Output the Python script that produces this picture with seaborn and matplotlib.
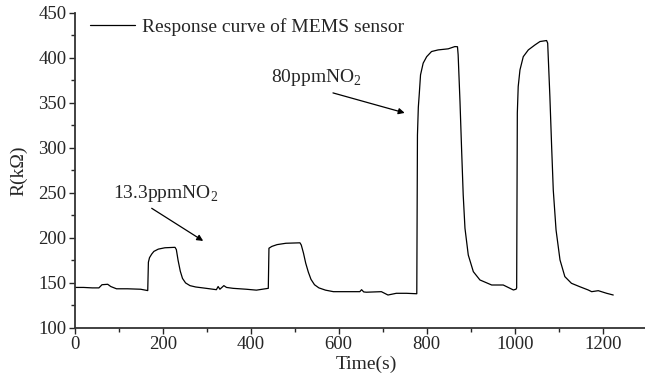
import matplotlib
matplotlib.use('Agg')
import matplotlib.pyplot as plt
import numpy as np
import pandas as pd
import seaborn as sns

# response of the MEMS sensor
time_s = [0, 20, 40, 55, 62, 75, 82, 95, 120, 150, 166, 167.5, 170, 175, 180, 190, 205, 228,
          231, 235, 240, 245, 252, 262, 275, 299, 322, 326, 330, 339, 345, 360, 390, 413, 440,
          441.5, 448, 460, 480, 512, 515, 520, 525, 531, 537, 545, 555, 570, 588, 620, 648, 652,
          657, 663, 697, 712, 731, 754, 777.5, 779, 781, 783, 786, 792, 800, 811, 826, 849,
          864, 870, 871.5, 875.7, 879.5, 883, 887, 894.5, 906, 921, 947.7, 974, 997, 1003,
          1004.5, 1006, 1008, 1012, 1019.5, 1031, 1046, 1057.5, 1072.5, 1075, 1080, 1084,
          1087.7, 1094, 1103, 1114, 1129, 1148, 1167, 1175, 1190, 1209, 1224]
resistance = [145, 145, 144.5, 144.5, 148, 148.5, 146, 143.5, 143.5, 143, 141.5, 173, 178, 182,
              185, 187.5, 189, 189.5, 187, 175, 163, 155, 150, 147, 145.5, 144, 142.5, 146, 143,
              147, 145, 144, 143, 142, 144, 188.5, 190.5, 192.5, 194, 194.5, 192, 183, 172, 162,
              154, 148, 144.5, 142, 140.3, 140.3, 140.3, 142.5, 140, 139.7, 140.3, 136.6, 138.5,
              138.5, 138, 314, 345, 358.6, 380.8, 393.8, 401, 406.7, 408.5, 409.7, 412.2, 412,
              403, 351, 295.7, 247.6, 210.7, 181, 162.5, 153.3, 147.7, 147.7, 142.2, 143,
              144.5, 338.6, 367.8, 386.3, 401, 408.5, 414, 417.8, 418.9, 416, 356.7, 301, 253,
              208.8, 175.5, 157, 149.6, 145.8, 142.2, 140.3, 141.4, 138.5, 136.6]

x_ticks = [0, 200, 400, 600, 800, 1000, 1200]
y_ticks = [100, 150, 200, 250, 300, 350, 400, 450]

df = pd.DataFrame({'Time(s)': time_s, 'R': resistance})

sns.set_style("ticks")
plt.rcParams['font.family'] = ['Liberation Serif', 'DejaVu Serif']
plt.rcParams['mathtext.fontset'] = 'custom'
plt.rcParams['mathtext.rm'] = 'Liberation Serif'

fig = plt.figure(figsize=(6.45, 3.9), dpi=100)
ax = fig.add_axes([74.7 / 645, 62 / 390, (659 - 74.7) / 645, (328 - 12.5) / 390])

sns.lineplot(data=df, x='Time(s)', y='R', ax=ax, color='black', linewidth=0.9,
             estimator=None, sort=False, label='Response curve of MEMS sensor')

ax.set_xlim(0, 1328)
ax.set_ylim(100, 450)
ax.set_xticks(x_ticks)
ax.set_yticks(y_ticks)
ax.set_xticks(np.arange(100, 1300, 200), minor=True)
ax.set_yticks(np.arange(125, 450, 50), minor=True)
ax.tick_params(which='major', direction='out', length=4, width=1.0, labelsize=13.5, pad=2)
ax.tick_params(which='minor', direction='out', length=3, width=1.0)
for side in ['top', 'right']:
    ax.spines[side].set_visible(False)
for side in ['left', 'bottom']:
    ax.spines[side].set_linewidth(1.3)
    ax.spines[side].set_color('#333333')

ax.set_xlabel('Time(s)', fontsize=14, labelpad=2)
ax.set_ylabel('R(k\u03a9)', fontsize=14, labelpad=8)

arrow = dict(arrowstyle='-|>', color='black', lw=0.9, shrinkA=0, shrinkB=0,
             mutation_scale=9)
ax.text(447, 373, '80ppmNO$_2$', fontsize=14, ha='left', va='baseline')
ax.annotate('', xy=(750, 338.6), xytext=(587, 360.8), arrowprops=arrow)
ax.text(88, 244.6, '13.3ppmNO$_2$', fontsize=14, ha='left', va='baseline')
ax.annotate('', xy=(292, 196.6), xytext=(175, 232.8), arrowprops=arrow)

ax.legend(loc='upper left', frameon=False, fontsize=14, handlelength=2.3,
          handletextpad=0.4, borderaxespad=0.2, bbox_to_anchor=(0.006, 1.02))

fig.savefig('out.png', dpi=100)
